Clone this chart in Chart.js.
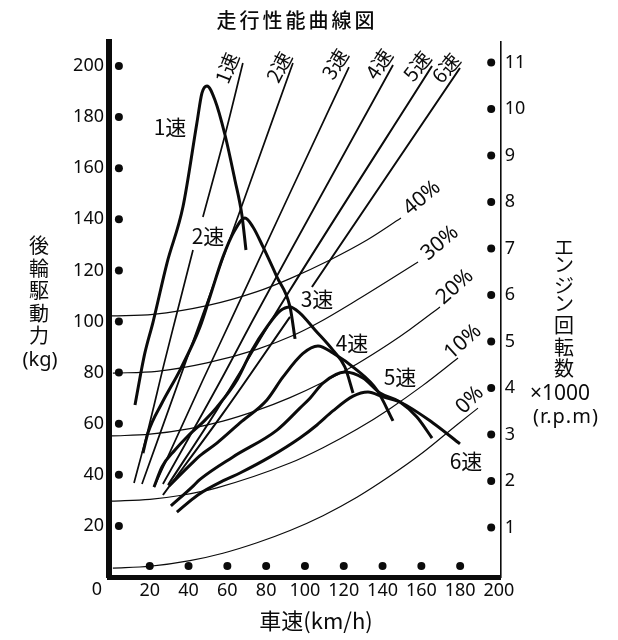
<!DOCTYPE html>
<html><head><meta charset="utf-8">
<style>html,body{margin:0;padding:0;background:#fff}canvas{display:block}</style>
<script src="https://cdn.jsdelivr.net/npm/chart.js@4"></script>
</head><body><canvas id="c" width="618" height="640" style="width:618px;height:640px"></canvas>
<script>
// Tick values
const speedTicks = [20,40,60,80,100,120,140,160,180,200];
const forceTicks = [20,40,60,80,100,120,140,160,180,200];
const rpmTicks = [1,2,3,4,5,6,7,8,9,10,11];
const bottomDotSpeeds = [20,40,60,80,100,120,140,160,180];
// Driving force per gear [km/h, kg]
const gear1 = [[12.4,67.3],[15.5,80.2],[17.5,87.7],[21.7,99.8],[28.9,122.9],[37.1,144.8],[44.3,177.7],[46.9,189.4],[49.5,192.2],[53.6,186.7],[58.8,173.0],[63.9,155.4],[67.5,141.7],[69.6,128.0]];
const gear2 = [[16.5,48.5],[19.1,56.4],[26.3,68.1],[35.6,81.0],[45.9,97.9],[51.0,109.6],[57.7,125.2],[63.9,135.8],[69.1,140.5],[73.2,137.0],[78.4,129.2],[85.6,117.4],[92.3,105.7],[94.9,93.2]];
const gear3 = [[22.2,35.2],[26.3,43.1],[33.0,49.7],[39.2,54.8],[48.5,61.4],[54.6,66.5],[65.0,77.1],[72.7,88.8],[80.4,97.9],[87.1,104.1],[92.3,105.7],[97.4,103.3],[105.2,96.7],[114.4,88.8],[120.6,82.2],[124.8,72.0]];
const gear4 = [[29.9,35.6],[41.8,44.6],[45.9,47.5],[54.6,52.4],[66.5,60.3],[80.4,69.3],[88.7,78.3],[99.0,87.5],[106.7,90.4],[114.4,87.7],[126.8,81.0],[137.1,73.2],[145.4,61.1]];
const gear5 = [[30.9,27.8],[41.8,35.2],[45.9,38.2],[62.9,47.0],[85.6,57.5],[97.4,66.1],[102.6,70.0],[109.3,75.9],[120.6,80.2],[129.9,77.9],[138.7,72.0],[149.0,68.5],[157.7,62.6],[165.5,54.4]];
const gear6 = [[34.0,25.4],[44.8,32.1],[58.8,38.0],[66.5,40.7],[82.0,47.0],[97.4,54.4],[106.2,59.5],[114.4,65.0],[124.8,70.8],[132.5,72.4],[140.2,70.5],[149.0,68.5],[166.0,60.3],[179.9,52.1]];
// Speed lines per gear (null = break behind a label)
const speed1 = [[11.9,36.8],[19.1,57.5],[27.5,83.8],[33.1,100.6],[42.3,128.0],[45,null],[47.4,140.9],[58.8,173.0],[68.0,201.2]];
const speed2 = [[16.0,36.4],[40.7,88.8],[68.0,146.4],[93.8,201.2]];
const speed3 = [[22.2,35.2],[47.4,77.1],[61.9,100.6],[92.3,150.3],[122.7,199.6]];
const speed4 = [[26.8,36.4],[56.7,77.1],[73.2,100.6],[92.3,127.2],[145.4,200.4]];
const speed5 = [[29.4,36.0],[54.6,65.4],[92.3,112.3],[165.5,200.0]];
const speed6 = [[26.8,32.1],[58.3,64.6],[92.3,101.8],[98,null],[103.6,113.5],[179.9,199.2]];
// Running resistance per gradient
const grade0 = [[1.0,3.5],[20.1,4.2],[40.7,6.4],[57.7,9.3],[75.3,13.4],[92.3,18.2],[109.3,24.0],[126.8,31.2],[143.8,39.5],[160.8,48.7],[178.4,59.6],[189.2,66.1]];
const grade10 = [[0.5,29.7],[20.1,30.4],[35.6,31.9],[54.6,34.9],[92.3,44.6],[109.3,50.6],[126.8,57.8],[143.8,65.9],[160.8,75.0],[178.9,85.7]];
const grade20 = [[0.5,55.2],[20.1,55.9],[40.7,58.1],[57.7,61.0],[75.3,65.2],[92.3,70.2],[109.3,76.2],[126.8,83.4],[143.8,91.5],[154.1,96.9],[169.6,105.7]];
const grade30 = [[1.0,79.8],[23.7,80.5],[49.5,83.8],[75.3,89.1],[93.8,94.5],[106.2,99.2],[126.8,108.4],[158.3,123.3]];
const grade40 = [[0.5,102.2],[21.7,102.8],[49.5,106.2],[75.3,111.7],[92.3,116.8],[112.9,124.1],[132.0,131.9],[149.5,140.5]];

const INK = '#0b0b0b';
const JP = '"Noto Sans CJK JP"', LAT = '"Noto Sans"';
const pts = a => a.map(p => ({x:p[0], y:p[1]}));
const line = (a,w) => ({type:'line',data:pts(a),borderColor:INK,backgroundColor:INK,borderWidth:w,pointRadius:0,cubicInterpolationMode:'monotone',spanGaps:false,clip:false,borderCapStyle:'butt',xAxisID:'x',yAxisID:'y'});
const dots = (d,axis) => ({type:'scatter',data:d,showLine:false,pointRadius:4,pointBackgroundColor:INK,pointBorderWidth:0,clip:false,xAxisID:'x',yAxisID:axis});

// [text, cx, cy, font, rotationDeg, letterSpacing]
const T = [
 ['走行性能曲線図',297,20,'500 20px '+JP,0,3],
 ['1速',170,127,'21px '+JP,0],['2速',208,236,'21px '+JP,0],['3速',317,299,'21px '+JP,0],
 ['4速',352,343,'21px '+JP,0],['5速',400,377,'21px '+JP,0],['6速',466,461,'21px '+JP,0],
 ['1速',227,68,'20px '+JP,-68],['2速',279,67,'20px '+JP,-62],['3速',335,64,'20px '+JP,-58],
 ['4速',379,64,'20px '+JP,-56],['5速',417,66,'20px '+JP,-52],['6速',446,68,'20px '+JP,-50],
 ['40%',422,198,'21px '+LAT,-40],['30%',440,243,'21px '+LAT,-40],['20%',455,287,'21px '+LAT,-42],
 ['10%',463,342,'21px '+LAT,-42],['0%',470,400,'21px '+LAT,-45],
 ['0',97,590,'18px '+LAT,0],
 ['車速(km/h)',316,621,'22px '+JP,0],
 ['後',39,245,'20px '+JP,0],['輪',39,268,'20px '+JP,0],['駆',39,290,'20px '+JP,0],['動',39,313,'20px '+JP,0],['力',39,335,'20px '+JP,0],
 ['(kg)',40,360,'20px '+LAT,0],
 ['エ',564,247,'20px '+JP,0],['ン',564,264,'20px '+JP,0],['ジ',564,285,'20px '+JP,0],['ン',564,303,'20px '+JP,0],
 ['回',564,325,'20px '+JP,0],['転',564,347,'20px '+JP,0],['数',564,368,'20px '+JP,0],
 ['×1000',560,394,'21px '+LAT,0],['(r.p.m)',566,417,'20px '+LAT,0,1]
];
const textPlugin = {id:'texts',afterDraw(chart){
  const c = chart.ctx;
  for (const [s,x,y,f,r,ls] of T){
    c.save();c.translate(x,y);c.rotate((r||0)*Math.PI/180);
    c.font=f;c.fillStyle=INK;c.textAlign='center';c.textBaseline='middle';
    if(ls)c.letterSpacing=ls+'px';
    c.fillText(s,0,0);c.restore();
  }
}};

const tickFont = {family:'"Noto Sans"',size:18};
new Chart(document.getElementById('c'),{
 type:'scatter',
 plugins:[textPlugin],
 data:{datasets:[
  line(gear1,3),line(gear2,3),line(gear3,3),line(gear4,3),line(gear5,3),line(gear6,3),
  line(speed1,1.7),line(speed2,1.7),line(speed3,1.7),line(speed4,1.8),line(speed5,2),line(speed6,2),
  line(grade0,1.2),line(grade10,1.2),line(grade20,1.2),line(grade30,1.2),line(grade40,1.2),
  dots(forceTicks.map(v=>({x:4.1,y:v})),'y'),
  dots(bottomDotSpeeds.map(v=>({x:v,y:4.3})),'y'),
  dots(rpmTicks.map(v=>({x:196,y:v})),'y1')
 ]},
 options:{
  responsive:false,animation:false,devicePixelRatio:1,
  layout:{padding:{top:42,left:0,right:0,bottom:0}},
  plugins:{legend:{display:false},tooltip:{enabled:false},title:{display:false}},
  scales:{
   x:{type:'linear',position:'bottom',min:-1,max:200.9,
      grid:{display:false,drawTicks:false},
      border:{color:INK,width:5},
      afterBuildTicks:s=>{s.ticks=speedTicks.map(v=>({value:v}));},
      afterFit:s=>{s.height=63;},
      ticks:{color:INK,font:tickFont,padding:3,maxRotation:0,autoSkip:false,callback:v=>String(v)}},
   y:{type:'linear',position:'left',min:0,max:209.4,
      grid:{display:false,drawTicks:false},
      border:{color:INK,width:6},
      afterBuildTicks:s=>{s.ticks=forceTicks.map(v=>({value:v}));},
      afterFit:s=>{s.width=109;},
      ticks:{color:INK,font:tickFont,padding:5,autoSkip:false,callback:v=>String(v)}},
   y1:{type:'linear',position:'right',min:-0.065,max:11.44,
      grid:{display:false,drawTicks:false},
      border:{color:INK,width:1.6},
      afterBuildTicks:s=>{s.ticks=rpmTicks.map(v=>({value:v}));},
      afterFit:s=>{s.width=117.3;},
      ticks:{color:INK,font:tickFont,padding:4,autoSkip:false,callback:v=>String(v)}}
  }
 }
});
</script></body></html>
